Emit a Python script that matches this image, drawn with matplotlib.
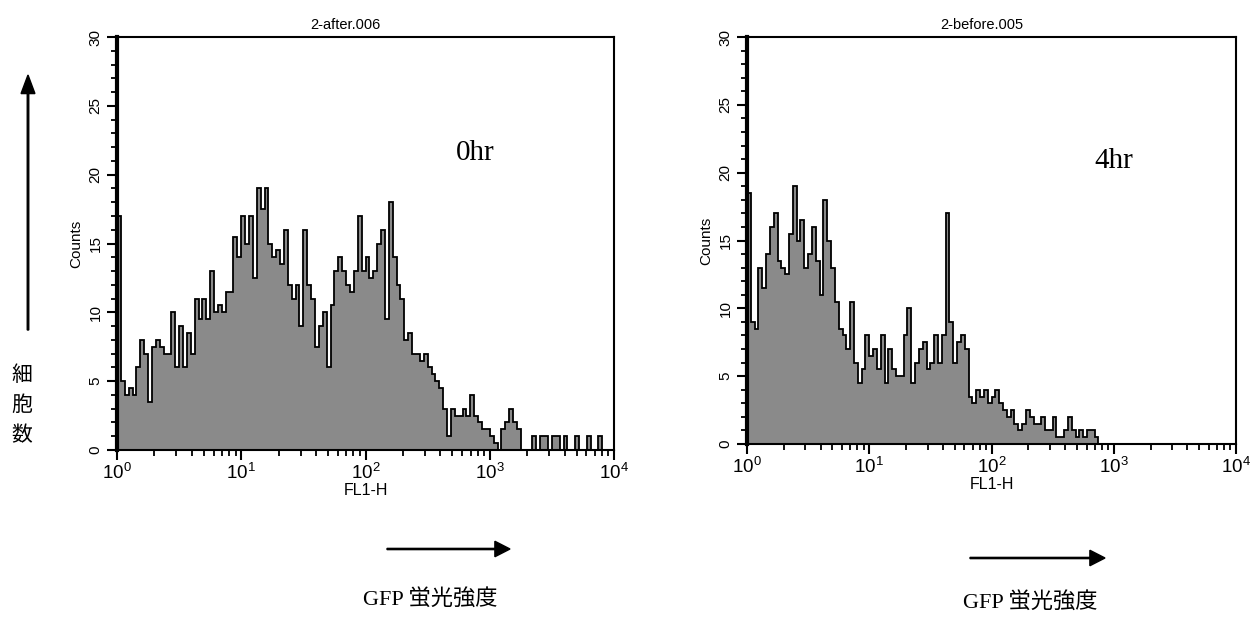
import numpy as np
import matplotlib
matplotlib.use('Agg')
import matplotlib.pyplot as plt
from matplotlib.ticker import LogLocator, MultipleLocator, NullFormatter

# counts per channel (128 log channels, 10^0 .. 10^4)
counts_0hr = [17, 5, 4, 4.5, 4, 6, 8, 7, 3.5, 7.5, 8, 7.5, 7, 7, 10, 6,
              9, 6, 8.5, 7, 11, 9.5, 11, 9.5, 13, 10, 10.5, 10, 11.5, 11.5, 15.5, 14,
              17, 15, 17, 12.5, 19, 17.5, 19, 15, 14, 14.5, 13.5, 16, 12, 11, 12, 9,
              16, 12, 11, 7.5, 9, 10, 6, 10.5, 13, 14, 13, 12, 11.5, 13, 17, 13,
              14, 12.5, 13, 15, 16, 9.5, 18, 14, 12, 11, 8, 8.5, 7, 7, 6.5, 7,
              6, 5.5, 5, 4.5, 3, 1, 3, 2.5, 2.5, 3, 2.5, 4, 2.5, 2, 1.5, 1.5,
              1, 0.5, 0, 1.5, 2, 3, 2, 1.5, 0, 0, 0, 1, 0, 1, 1, 0,
              1, 1, 0, 1, 0, 0, 1, 0, 0, 1, 0, 0, 1, 0, 0, 0]

counts_4hr = [18.5, 9, 8.5, 13, 11.5, 14, 16, 17, 13.5, 13, 12.5, 15.5, 19, 15, 16.5, 13,
              14, 16, 13.5, 11, 18, 15, 13, 10.5, 8.5, 8, 7, 10.5, 6, 4.5, 5.5, 8,
              6.5, 7, 5.5, 8, 4.5, 7, 5.5, 5, 5, 8, 10, 4.5, 6, 7, 7.5, 5.5,
              6, 8, 6, 8, 17, 9, 6, 7.5, 8, 7, 3.5, 3, 4, 3.5, 4, 3,
              3.5, 4, 3, 2.5, 2, 2.5, 1.5, 1, 1.5, 2.5, 2, 1.5, 1.5, 2, 1, 1,
              2, 0.5, 0.5, 1, 2, 1, 0.5, 1, 0.5, 1, 1, 0.5, 0, 0, 0, 0,
              0, 0, 0, 0, 0, 0, 0, 0, 0, 0, 0, 0, 0, 0, 0, 0,
              0, 0, 0, 0, 0, 0, 0, 0, 0, 0, 0, 0, 0, 0, 0, 0]

titles = ["2-after.006", "2-before.005"]
labels = ["0hr", "4hr"]

cjk = ['Noto Sans CJK JP', 'DejaVu Sans']
serif = ['Liberation Serif', 'Noto Sans CJK JP']
plt.rcParams['font.family'] = ['Liberation Sans', 'DejaVu Sans']
plt.rcParams['mathtext.fontset'] = 'custom'
plt.rcParams['mathtext.rm'] = 'Liberation Sans'

W, H = 1260, 619
fig = plt.figure(figsize=(W / 100, H / 100), dpi=100)
ax1 = fig.add_axes([117 / W, 1 - 450 / H, 497 / W, 413 / H])
ax2 = fig.add_axes([747 / W, 1 - 444 / H, 489 / W, 407 / H])

edges = np.logspace(0, 4, len(counts_0hr) + 1)

panels = [(ax1, counts_0hr, titles[0], labels[0], (0.72, 0.72), 0.46),
          (ax2, counts_4hr, titles[1], labels[1], (0.75, 0.695), 0.48)]
for ax, data, title, lab, pos, tpos in panels:
    ax.stairs(data, edges, fill=True, color='#8a8a8a', zorder=1)
    ax.stairs(data, edges, color='black', lw=1.3, zorder=2)
    ax.set_xscale('log')
    ax.set_xlim(1, 1e4)
    ax.set_ylim(0, 30)
    ax.xaxis.set_major_locator(LogLocator(base=10, numticks=10))
    ax.xaxis.set_minor_locator(LogLocator(base=10, subs=np.arange(2, 10), numticks=20))
    ax.xaxis.set_minor_formatter(NullFormatter())
    ax.yaxis.set_major_locator(MultipleLocator(5))
    ax.yaxis.set_minor_locator(MultipleLocator(1))
    ax.tick_params(axis='both', which='major', direction='out', length=7, width=1.5, labelsize=11)
    ax.tick_params(axis='both', which='minor', direction='out', length=4, width=1.3)
    ax.tick_params(axis='x', labelsize=13.5, pad=2)
    for t in ax.get_yticklabels():
        t.set_rotation(90)
        t.set_va('center')
    for side in ['top', 'right', 'bottom']:
        ax.spines[side].set_linewidth(1.5)
    ax.spines['left'].set_linewidth(3)
    ax.set_title(title, fontsize=10.5, pad=6, x=tpos)
    ax.set_ylabel('Counts', fontsize=11, labelpad=4)
    ax.set_xlabel('FL1-H', fontsize=11.5, labelpad=0)
    ax.text(pos[0], pos[1], lab, transform=ax.transAxes, ha='center', va='center',
            fontsize=21, family=serif)

# left side: cell count arrow and label
fig.patches.append(matplotlib.patches.FancyArrow(
    28 / W, 1 - 330 / H, 0, (330 - 75) / H, width=0.0012,
    head_width=0.011, head_length=0.03, length_includes_head=True,
    color='black', transform=fig.transFigure))
for i, ch in enumerate("細胞数"):
    fig.text(22 / W, 1 - (375 + 30 * i) / H, ch, ha='center', va='center',
             fontsize=15, family=cjk)

# bottom arrows and GFP labels
for x0, x1, y, tx, ty in [(387, 510, 549, 430, 600), (970, 1105, 558, 1030, 603)]:
    fig.patches.append(matplotlib.patches.FancyArrow(
        x0 / W, 1 - y / H, (x1 - x0) / W, 0, width=0.002,
        head_width=0.025, head_length=0.012, length_includes_head=True,
        color='black', transform=fig.transFigure))
    fig.text(tx / W, 1 - ty / H, "GFP 蛍光強度", ha='center', va='center',
             fontsize=16, family=serif)

fig.savefig('out.png', dpi=100)
